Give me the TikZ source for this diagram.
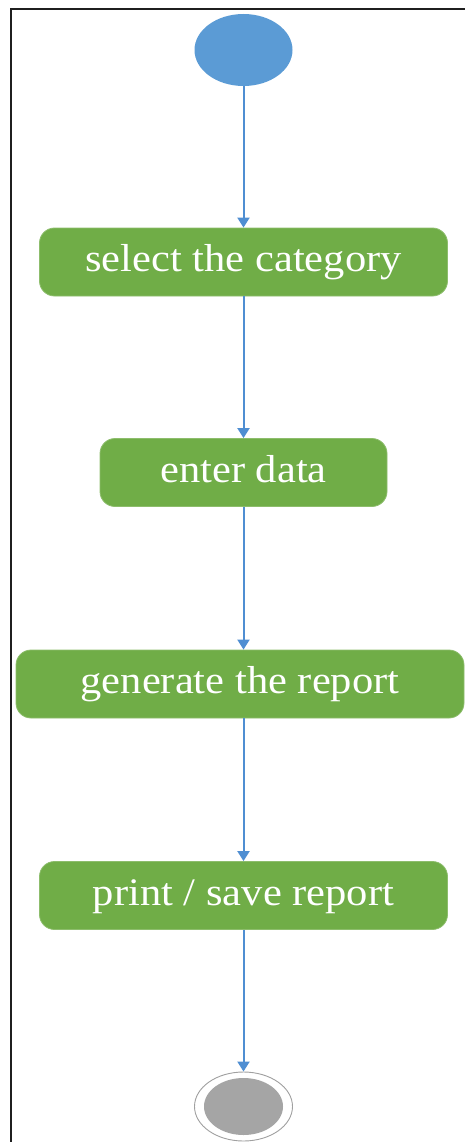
\documentclass[tikz,border=0pt]{standalone}
\usepackage{fontspec}
\setmainfont[FakeStretch=1.09]{Liberation Serif}
\usetikzlibrary{arrows.meta,shapes.geometric}
\definecolor{startblue}{HTML}{5B9BD5}
\definecolor{actgreen}{HTML}{70AD47}
\definecolor{flowblue}{HTML}{4F8ED2}
\definecolor{endgray}{HTML}{A5A5A5}
\definecolor{ringgray}{HTML}{A0A0A0}
\begin{document}
\begin{tikzpicture}[x=1pt,y=-1pt,
  action/.style={rectangle,rounded corners=15pt,fill=actgreen,draw=actgreen!80!white,
    line width=0.8pt,text=white,font=\fontsize{39}{44}\selectfont,
    minimum height=68pt,inner sep=0pt,text height=28pt,text depth=8.5pt},
  flow/.style={draw=flowblue,line width=2pt,-{Triangle[width=12pt,length=10pt]}},
  initial/.style={ellipse,fill=startblue,minimum width=98pt,minimum height=72pt,inner sep=0pt},
  final/.style={ellipse,draw=ringgray,line width=0.9pt,fill=white,minimum width=98pt,minimum height=69pt,inner sep=0pt},
  finalcore/.style={ellipse,fill=endgray,minimum width=79pt,minimum height=57pt,inner sep=0pt},
]
\useasboundingbox (0,0) rectangle (465,1142);
% frame
\draw[line width=2.2pt,color=black!88,line join=miter] (470,9) -- (11,9) -- (11,1150);

% nodes
\node[initial] (start) at (243.5,50) {};
\node[action,minimum width=408pt] (a1) at (243.5,262) {select the category};
\node[action,minimum width=287pt] (a2) at (243.5,472.5) {enter data};
\node[action,minimum width=448pt] (a3) at (240,684) {generate the report};
\node[action,minimum width=408pt] (a4) at (243.5,895.5) {print / save report};
\node[final] (stop) at (243.5,1106.5) {};
\node[finalcore] (stopcore) at (stop.center) {};

% control flow
\draw[flow] (start) -- (a1);
\draw[flow] (a1) -- (a2);
\draw[flow] (a2.south) -- (a2.south |- a3.north);
\draw[flow] (a3.south -| a4.north) -- (a4.north);
\draw[flow] (a4) -- (stop);
\end{tikzpicture}
\end{document}
